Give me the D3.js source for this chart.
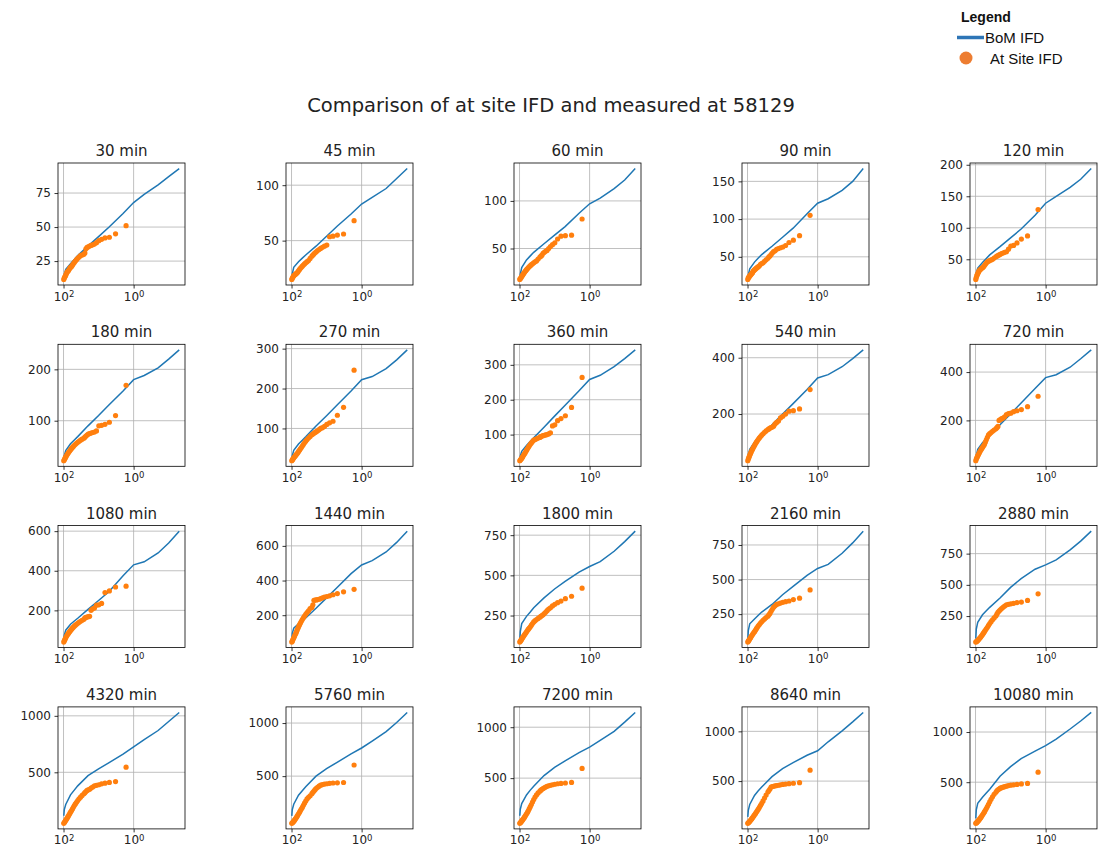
<!DOCTYPE html>
<html>
<head>
<meta charset="utf-8">
<script src="https://cdn.jsdelivr.net/npm/d3@7"></script>
<style>
  html, body { margin: 0; padding: 0; background: #ffffff; }
  svg { display: block; }
</style>
</head>
<body>
<svg id="chart" width="1103" height="857"></svg>
<script>
// ---------------- DATA ----------------
const titles = ["30 min","45 min","60 min","90 min","120 min",
                "180 min","270 min","360 min","540 min","720 min",
                "1080 min","1440 min","1800 min","2160 min","2880 min",
                "4320 min","5760 min","7200 min","8640 min","10080 min"];

// AEP (%) of the BoM IFD curve
const bomAEP = [98.17, 95.02, 86.47, 63.2, 50, 39.35, 20, 10, 5, 2, 1, 0.5, 0.2, 0.1, 0.05];
// AEP (%) plotting positions of the at-site ranked maxima
const siteAEP = [1.64, 3.28, 4.92, 6.56, 8.20, 9.84, 11.48, 13.11, 14.75, 16.39, 18.03, 19.67,
                 21.31, 22.95, 24.59, 26.23, 29.51, 32.79, 36.07, 39.34, 42.62, 45.90, 49.18,
                 52.46, 55.74, 59.02, 62.30, 65.57, 68.85, 72.13, 75.41, 78.69, 81.97, 85.25,
                 88.52, 91.80, 95.08, 98.36];

const xTickValues = [100, 1];

const bom30   = [13, 15, 19, 23, 26, 29, 36, 43, 50, 60, 68, 74, 81, 87, 93];
const bom45   = [16, 20, 26, 31, 34, 37, 45, 54, 63, 74, 83, 89, 97, 106, 115];
const bom60   = [19, 23, 30, 38, 42, 46, 55, 64, 73, 87, 97, 103, 113, 122, 134];
const bom90   = [21, 26, 34, 43, 48, 53, 64, 76, 88, 107, 121, 127, 138, 150, 167];
const bom120  = [22, 28, 36, 45, 51, 57, 70, 84, 98, 120, 139, 150, 164, 177, 194];
const bom180  = [24, 32, 42, 55, 62, 69, 90, 110, 131, 158, 180, 188, 203, 220, 238];
const bom270  = [22, 32, 45, 61, 70, 79, 106, 132, 159, 194, 222, 230, 250, 272, 297];
const bom360  = [27, 39, 52, 69, 80, 91, 121, 153, 184, 226, 258, 270, 295, 318, 343];
const bom540  = [38, 55, 75, 100, 113, 126, 162, 200, 237, 287, 328, 340, 368, 397, 428];
const bom720  = [36, 55, 80, 108, 123, 139, 182, 227, 272, 332, 377, 389, 420, 455, 492];
const bom1080 = [45, 75, 100, 130, 145, 160, 205, 250, 295, 375, 430, 445, 490, 540, 600];
const bom1440 = [55, 95, 125, 150, 167, 184, 240, 300, 360, 440, 490, 515, 565, 620, 685];
const bom1800 = [95, 150, 200, 245, 270, 298, 360, 415, 462, 520, 555, 585, 650, 710, 775];
const bom2160 = [60, 130, 180, 215, 240, 265, 320, 390, 450, 530, 580, 610, 690, 765, 850];
const bom2880 = [70, 145, 200, 260, 290, 320, 395, 480, 550, 625, 660, 700, 780, 850, 930];
const bom4320 = [115, 170, 215, 300, 340, 380, 470, 530, 585, 660, 725, 790, 870, 950, 1030];
const bom5760 = [125, 185, 235, 320, 360, 400, 500, 570, 630, 710, 765, 830, 920, 1005, 1100];
const bom7200 = [130, 195, 250, 335, 380, 420, 525, 605, 670, 750, 805, 870, 960, 1050, 1145];
const bom8640 = [140, 205, 265, 355, 400, 440, 545, 625, 685, 760, 805, 895, 1005, 1095, 1190];
const bom10080= [140, 225, 290, 350, 390, 430, 560, 655, 735, 810, 865, 930, 1030, 1110, 1195];

const site30   = [51, 45, 42.5, 42, 41, 40, 38.5, 37.5, 37, 36.5, 36, 35.5, 35, 34, 31, 30, 29.5, 29, 28, 27, 26, 25, 24, 23, 22, 21, 20.5, 20, 19, 18, 17.5, 17, 16, 15, 14, 13.5, 12.5, 11.5];
const site45   = [68, 56, 55, 54, 53.5, 46, 45, 44, 43, 42, 41, 40, 39, 38, 37, 36, 34, 32, 31, 30, 29, 28, 27, 26, 25, 24, 23, 22, 21, 20.5, 20, 19.5, 19, 18.5, 18, 17, 16, 15];
const site60   = [81, 64, 63.5, 63, 60, 56, 54, 52, 50, 48, 47, 46, 45, 43, 42, 41, 39, 37, 36, 35, 34, 33, 32, 31, 30, 29, 28, 27, 26, 25, 24, 23, 22, 21, 20, 19, 18.5, 17.5];
const site90   = [105, 78, 72, 69, 65, 63, 62, 61, 60, 58, 57, 55, 53, 51, 50, 48, 46, 44, 42, 41, 40, 38, 37, 36, 35, 34, 33, 32, 31, 29, 28, 27, 26, 25, 24, 23, 22, 20];
const site120  = [129, 87, 82, 76, 72, 71, 66, 62, 61, 60, 59, 58, 57, 56, 55, 54, 52, 50, 49, 48, 47, 46, 44, 42, 40, 38, 37, 36, 35, 34, 33, 32, 30, 28, 26, 24, 21, 18];
const site180  = [169, 110, 97, 93, 91, 90, 80, 78, 77, 76, 75, 74, 72, 70, 68, 66, 64, 62, 60, 58, 56, 54, 52, 50, 48, 46, 44, 42, 40, 38, 36, 34, 32, 30, 28, 26, 24, 22];
const site270  = [246, 153, 133, 118, 114, 110, 105, 102, 100, 97, 94, 92, 90, 88, 86, 84, 80, 76, 72, 68, 64, 60, 56, 52, 49, 46, 43, 40, 37, 35, 33, 31, 29, 27, 25, 23, 21, 19];
const site360  = [264, 178, 154, 146, 140, 128, 125, 105, 102, 100, 99, 98, 97, 96, 94, 92, 90, 88, 86, 84, 80, 76, 72, 68, 64, 60, 56, 52, 48, 45, 42, 39, 36, 33, 31, 29, 27, 25];
const site540  = [287, 218, 212, 210, 200, 192, 186, 175, 170, 165, 157, 154, 152, 150, 147, 145, 140, 135, 130, 125, 120, 115, 110, 105, 100, 95, 90, 85, 80, 75, 70, 65, 60, 55, 50, 45, 40, 34];
const site720  = [300, 257, 245, 240, 236, 230, 228, 224, 215, 210, 207, 203, 200, 175, 170, 165, 160, 155, 150, 145, 140, 130, 120, 110, 100, 95, 90, 85, 80, 75, 70, 65, 60, 55, 50, 45, 40, 33];
const site1080 = [322, 318, 298, 290, 235, 228, 226, 212, 208, 200, 170, 168, 166, 165, 162, 155, 150, 145, 140, 135, 130, 125, 120, 115, 110, 105, 100, 95, 90, 85, 80, 75, 70, 64, 58, 52, 46, 40];
const site1440 = [349, 335, 325, 318, 312, 308, 305, 300, 296, 292, 290, 288, 287, 286, 260, 245, 238, 225, 215, 205, 195, 185, 175, 165, 155, 145, 135, 125, 115, 105, 95, 88, 80, 72, 65, 58, 50, 45];
const site1800 = [420, 370, 355, 340, 330, 320, 310, 298, 290, 280, 270, 262, 255, 250, 245, 240, 232, 225, 218, 210, 200, 190, 180, 172, 165, 158, 150, 143, 136, 130, 124, 118, 112, 106, 100, 95, 90, 85];
const site2160 = [425, 365, 355, 345, 340, 335, 330, 325, 320, 310, 300, 285, 270, 255, 245, 235, 225, 215, 205, 195, 185, 175, 165, 155, 145, 135, 125, 118, 110, 102, 95, 88, 80, 73, 66, 60, 54, 48];
const site2880 = [428, 375, 362, 358, 352, 348, 344, 340, 330, 320, 310, 300, 290, 280, 265, 250, 235, 220, 205, 190, 175, 160, 148, 136, 125, 115, 105, 96, 88, 80, 74, 68, 62, 57, 52, 48, 45, 42];
const site4320 = [545, 418, 410, 404, 398, 390, 385, 380, 370, 360, 350, 345, 340, 330, 320, 310, 295, 280, 265, 250, 235, 220, 205, 190, 175, 162, 150, 138, 126, 115, 105, 95, 86, 78, 70, 62, 55, 48];
const site5760 = [605, 440, 437, 435, 432, 428, 425, 420, 415, 405, 395, 385, 372, 360, 348, 335, 315, 300, 285, 265, 245, 225, 205, 190, 175, 160, 147, 135, 123, 112, 102, 93, 85, 78, 71, 65, 60, 55];
const site7200 = [595, 458, 452, 448, 445, 440, 435, 430, 425, 420, 412, 405, 398, 390, 382, 372, 355, 335, 315, 290, 265, 240, 220, 200, 182, 166, 152, 140, 128, 117, 107, 98, 90, 82, 75, 68, 62, 56];
const site8640 = [610, 484, 478, 474, 470, 466, 462, 458, 455, 452, 448, 445, 440, 420, 405, 390, 360, 330, 300, 275, 255, 235, 218, 202, 188, 175, 163, 152, 141, 131, 122, 113, 105, 98, 92, 86, 80, 75];
const site10080= [600, 488, 483, 478, 474, 470, 466, 460, 455, 450, 445, 440, 432, 425, 415, 400, 380, 355, 330, 305, 280, 258, 238, 220, 204, 190, 177, 165, 154, 144, 135, 127, 119, 112, 105, 99, 94, 90];

const yTicks30 = [25, 50, 75], yTicks45 = [50, 100], yTicks60 = [50, 100], yTicks90 = [50, 100, 150], yTicks120 = [50, 100, 150, 200];
const yTicks180 = [100, 200], yTicks270 = [100, 200, 300], yTicks360 = [100, 200, 300], yTicks540 = [200, 400], yTicks720 = [200, 400];
const yTicks1080 = [200, 400, 600], yTicks1440 = [200, 400, 600], yTicks1800 = [250, 500, 750], yTicks2160 = [250, 500, 750], yTicks2880 = [250, 500, 750];
const yTicksLong = [500, 1000];

const bomSeries  = [bom30,bom45,bom60,bom90,bom120,bom180,bom270,bom360,bom540,bom720,
                    bom1080,bom1440,bom1800,bom2160,bom2880,bom4320,bom5760,bom7200,bom8640,bom10080];
const siteSeries = [site30,site45,site60,site90,site120,site180,site270,site360,site540,site720,
                    site1080,site1440,site1800,site2160,site2880,site4320,site5760,site7200,site8640,site10080];
const yTickSets  = [yTicks30,yTicks45,yTicks60,yTicks90,yTicks120,yTicks180,yTicks270,yTicks360,yTicks540,yTicks720,
                    yTicks1080,yTicks1440,yTicks1800,yTicks2160,yTicks2880,yTicksLong,yTicksLong,yTicksLong,yTicksLong,yTicksLong];

// ---------------- LAYOUT ----------------
const BLUE = "#1f77b4", ORANGE = "#ff7f0e";
const FONT = "'DejaVu Sans', sans-serif";
const colLeft0 = 58, colStep = 228, axW = 127;
const rowTop0 = 163, rowStep = 181.3, axH = 122;

const svg = d3.select("#chart");

svg.append("text")
  .attr("x", 551).attr("y", 112)
  .attr("text-anchor", "middle")
  .attr("font-family", FONT).attr("font-size", 19.5)
  .attr("fill", "#222")
  .text("Comparison of at site IFD and measured at 58129");

// legend
const lg = svg.append("g").attr("font-family", "'Liberation Sans', Arial, sans-serif");
lg.append("text").attr("x", 961).attr("y", 22).attr("font-size", 14).attr("font-weight", "bold").attr("fill", "#111").text("Legend");
lg.append("line").attr("x1", 957).attr("x2", 984).attr("y1", 37.5).attr("y2", 37.5).attr("stroke", "#2e75b6").attr("stroke-width", 3.5);
lg.append("text").attr("x", 985).attr("y", 43).attr("font-size", 15).attr("fill", "#111").text("BoM IFD");
lg.append("circle").attr("cx", 966).attr("cy", 58).attr("r", 6.5).attr("fill", "#ed7d31");
lg.append("text").attr("x", 990).attr("y", 64).attr("font-size", 15).attr("fill", "#111").text("At Site IFD");

// x domain shared (log space, 5% margins like matplotlib autoscale)
const lx = [Math.log10(d3.max(siteAEP)), Math.log10(d3.min(bomAEP))];
const lpad = (lx[0] - lx[1]) * 0.05;
const xDomain = [Math.pow(10, lx[0] + lpad), Math.pow(10, lx[1] - lpad)];

titles.forEach((t, i) => {
  const r = Math.floor(i / 5), c = i % 5;
  const left = colLeft0 + c * colStep, top = rowTop0 + r * rowStep;
  const g = svg.append("g").attr("transform", `translate(${left},${top})`);

  const bom = bomAEP.map((a, k) => ({a, v: bomSeries[i][k]}));
  const site = siteAEP.map((a, k) => ({a, v: siteSeries[i][k]}));

  const x = d3.scaleLog().domain(xDomain).range([0, axW]);
  const all = bom.map(d => d.v).concat(site.map(d => d.v));
  const ymin = d3.min(all), ymax = d3.max(all), yp = (ymax - ymin) * 0.05;
  const y = d3.scaleLinear().domain([ymin - yp, ymax + yp]).range([axH, 0]);

  // grid
  g.append("g").selectAll("line.gy").data(yTickSets[i]).join("line")
    .attr("x1", 0).attr("x2", axW).attr("y1", d => y(d)).attr("y2", d => y(d))
    .attr("stroke", "#b0b0b0").attr("stroke-width", 0.8);
  g.append("g").selectAll("line.gx").data(xTickValues).join("line")
    .attr("x1", d => x(d)).attr("x2", d => x(d)).attr("y1", 0).attr("y2", axH)
    .attr("stroke", "#b0b0b0").attr("stroke-width", 0.8);

  // BoM line
  g.append("path").datum(bom)
    .attr("fill", "none").attr("stroke", BLUE).attr("stroke-width", 1.5)
    .attr("d", d3.line().x(d => x(d.a)).y(d => y(d.v)));

  // at-site points
  g.append("g").selectAll("circle").data(site).join("circle")
    .attr("cx", d => x(d.a)).attr("cy", d => y(d.v)).attr("r", 2.6)
    .attr("fill", ORANGE);

  // axes
  const ya = g.append("g").call(d3.axisLeft(y).tickValues(yTickSets[i]).tickSize(3.5).tickPadding(3.5).tickFormat(d3.format("d")));
  const xa = g.append("g").attr("transform", `translate(0,${axH})`)
    .call(d3.axisBottom(x).tickValues(xTickValues).tickSize(3.5).tickPadding(3.5).tickFormat(() => ""));
  [ya, xa].forEach(a => {
    a.select(".domain").remove();
    a.selectAll("line").attr("stroke", "#000").attr("stroke-width", 0.8);
    a.selectAll("text").attr("font-family", FONT).attr("font-size", 12).attr("fill", "#222");
  });
  xa.selectAll(".tick text").each(function(d) {
    const el = d3.select(this);
    el.text("10");
    el.append("tspan").attr("dy", "-0.45em").attr("font-size", 8.5).text(String(Math.round(Math.log10(d))));
  });

  g.append("rect").attr("x", 0).attr("y", 0).attr("width", axW).attr("height", axH)
    .attr("fill", "none").attr("stroke", "#000").attr("stroke-width", 0.8);

  g.append("text").attr("x", axW / 2).attr("y", -7)
    .attr("text-anchor", "middle").attr("font-family", FONT).attr("font-size", 15)
    .attr("fill", "#222").text(t);
});
</script>
</body>
</html>
